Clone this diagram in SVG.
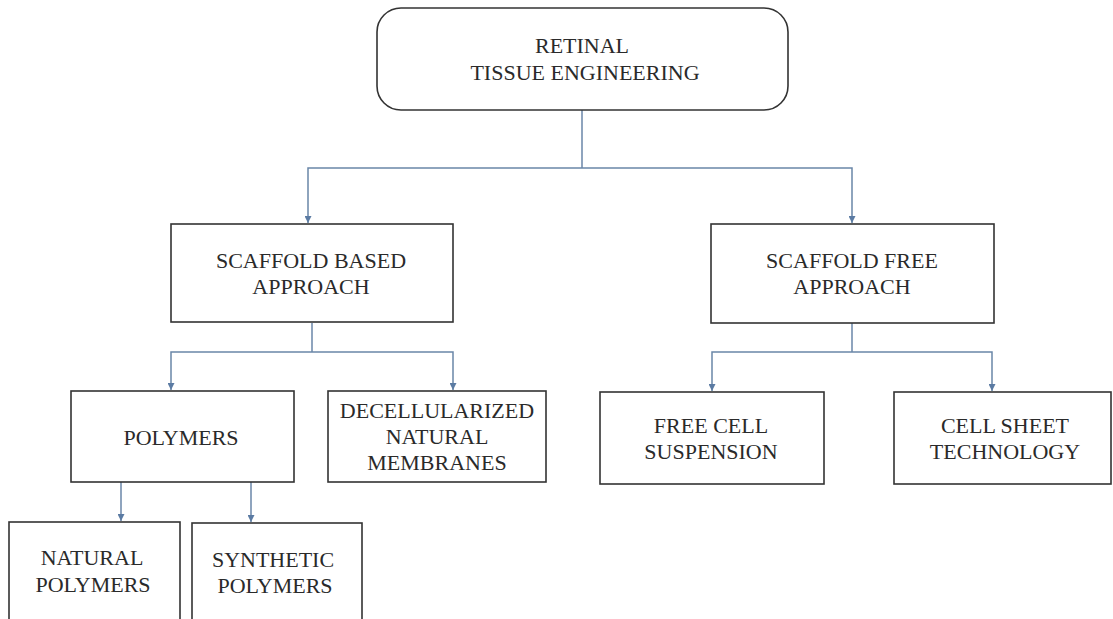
<svg xmlns="http://www.w3.org/2000/svg" width="1113" height="619" viewBox="0 0 1113 619">
<defs>
<style>
.box{fill:#fff;stroke:#333;stroke-width:1.6}
.t{font-family:"Liberation Serif","Times New Roman",serif;font-size:22px;fill:#2a2a2a;text-anchor:middle}
.c{fill:none;stroke:#6a86a8;stroke-width:1.5}
</style>
<marker id="ah" viewBox="0 0 10 10" refX="10" refY="5" markerWidth="7" markerHeight="7" markerUnits="userSpaceOnUse" orient="auto">
<path d="M0,0 L10,5 L0,10 z" fill="#5b7ba3"/>
</marker>
</defs>
<rect width="1113" height="619" fill="#fff"/>
<g id="connectors">
<path class="c" d="M582,110 V168"/>
<path class="c" d="M582,168 H308 V223" marker-end="url(#ah)"/>
<path class="c" d="M582,168 H852 V223" marker-end="url(#ah)"/>
<path class="c" d="M312,323 V352"/>
<path class="c" d="M312,352 H171 V390" marker-end="url(#ah)"/>
<path class="c" d="M312,352 H453 V390" marker-end="url(#ah)"/>
<path class="c" d="M852,323 V352"/>
<path class="c" d="M852,352 H712 V391" marker-end="url(#ah)"/>
<path class="c" d="M852,352 H992 V391" marker-end="url(#ah)"/>
<path class="c" d="M121,482 V521" marker-end="url(#ah)"/>
<path class="c" d="M251,482 V522" marker-end="url(#ah)"/>
</g>
<g id="retinal">
<rect class="box" x="377" y="8" width="411" height="102" rx="24"/>
<text class="t" x="582" y="53">RETINAL</text>
<text class="t" x="585" y="80">TISSUE ENGINEERING</text>
</g>
<g id="scaffold-based">
<rect class="box" x="171" y="224" width="282" height="98"/>
<text class="t" x="311" y="268">SCAFFOLD BASED</text>
<text class="t" x="311" y="294">APPROACH</text>
</g>
<g id="scaffold-free">
<rect class="box" x="711" y="224" width="283" height="99"/>
<text class="t" x="852" y="268">SCAFFOLD FREE</text>
<text class="t" x="852" y="294">APPROACH</text>
</g>
<g id="polymers">
<rect class="box" x="71" y="391" width="223" height="91"/>
<text class="t" x="181" y="445">POLYMERS</text>
</g>
<g id="decellularized">
<rect class="box" x="328" y="391" width="218" height="91"/>
<text class="t" x="437" y="418">DECELLULARIZED</text>
<text class="t" x="437" y="444">NATURAL</text>
<text class="t" x="437" y="470">MEMBRANES</text>
</g>
<g id="free-cell">
<rect class="box" x="600" y="392" width="224" height="92"/>
<text class="t" x="711" y="433">FREE CELL</text>
<text class="t" x="711" y="459">SUSPENSION</text>
</g>
<g id="cell-sheet">
<rect class="box" x="894" y="392" width="217" height="92"/>
<text class="t" x="1005" y="433">CELL SHEET</text>
<text class="t" x="1005" y="459">TECHNOLOGY</text>
</g>
<g id="natural-polymers">
<rect class="box" x="9" y="522" width="171" height="110"/>
<text class="t" x="92" y="565">NATURAL</text>
<text class="t" x="93" y="592">POLYMERS</text>
</g>
<g id="synthetic-polymers">
<rect class="box" x="192" y="523" width="170" height="110"/>
<text class="t" x="273" y="567">SYNTHETIC</text>
<text class="t" x="275" y="593">POLYMERS</text>
</g>
</svg>
